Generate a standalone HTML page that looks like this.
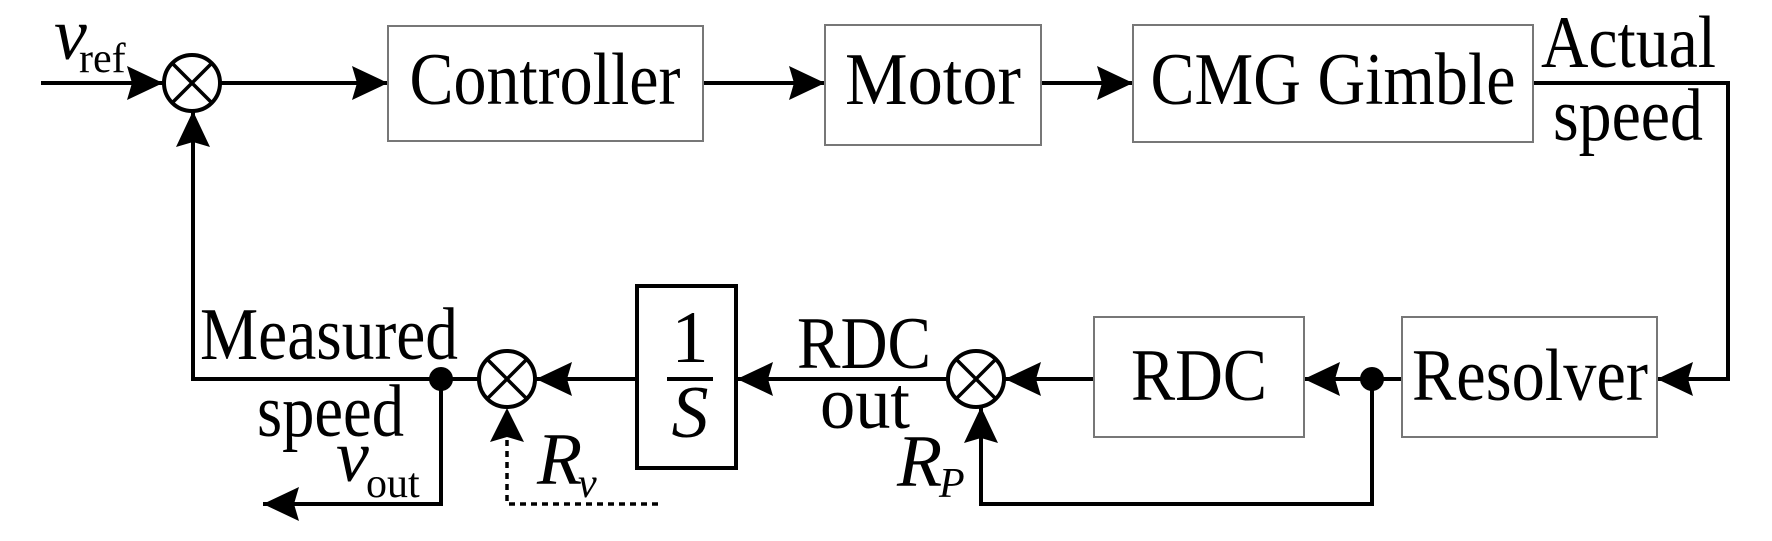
<!DOCTYPE html>
<html><head><meta charset="utf-8"><style>
html,body{margin:0;padding:0;background:#fff;}
svg{display:block;}
text{font-family:"Liberation Serif",serif;fill:#000;}
</style></head><body>
<svg width="1772" height="541" viewBox="0 0 1772 541" xmlns="http://www.w3.org/2000/svg">
<defs>
<marker id="ah" viewBox="0 0 36 34" refX="36" refY="17" markerWidth="36" markerHeight="34" markerUnits="userSpaceOnUse" orient="auto">
<path d="M0,0 L36,17 L0,34 L5,17 Z" fill="#000"/>
</marker>
</defs>
<g fill="none" stroke="#000" stroke-width="4">
<line x1="41" y1="83" x2="163" y2="83" marker-end="url(#ah)"/>
<line x1="221" y1="83" x2="388" y2="83" marker-end="url(#ah)"/>
<line x1="703" y1="83" x2="825" y2="83" marker-end="url(#ah)"/>
<line x1="1041" y1="83" x2="1133" y2="83" marker-end="url(#ah)"/>
<polyline points="1533,83 1728,83 1728,379 1657,379" marker-end="url(#ah)"/>
<line x1="1402" y1="379" x2="1304" y2="379" marker-end="url(#ah)"/>
<line x1="1094" y1="379" x2="1005" y2="379" marker-end="url(#ah)"/>
<polyline points="1372,379 1372,504 981,504 981,407" marker-end="url(#ah)"/>
<line x1="948" y1="379" x2="737" y2="379" marker-end="url(#ah)"/>
<line x1="637" y1="379" x2="536" y2="379" marker-end="url(#ah)"/>
<line x1="478" y1="379" x2="441" y2="379"/>
<polyline points="441,379 193,379 193,111" marker-end="url(#ah)"/>
<polyline points="441,379 441,504 263,504" marker-end="url(#ah)"/>
<polyline points="658,504 507,504 507,430" stroke-dasharray="6,5" stroke-width="3.5"/>
<circle cx="192" cy="83" r="28"/>
<circle cx="976" cy="379" r="28"/>
<circle cx="507" cy="379" r="28"/>
</g>
<g stroke="#000" stroke-width="3.5">
<line x1="172" y1="63" x2="212" y2="103"/><line x1="212" y1="63" x2="172" y2="103"/>
<line x1="956" y1="359" x2="996" y2="399"/><line x1="996" y1="359" x2="956" y2="399"/>
<line x1="487" y1="359" x2="527" y2="399"/><line x1="527" y1="359" x2="487" y2="399"/>
</g>
<path d="M507,408 L524,442 L507,437 L490,442 Z" fill="#000"/>
<circle cx="441" cy="379" r="12" fill="#000"/>
<circle cx="1372" cy="379" r="12" fill="#000"/>
<g fill="none" stroke="#777" stroke-width="2">
<rect x="388" y="26" width="315" height="115"/>
<rect x="825" y="25" width="216" height="120"/>
<rect x="1133" y="25" width="400" height="117"/>
<rect x="1094" y="317" width="210" height="120"/>
<rect x="1402" y="317" width="255" height="120"/>
</g>
<rect x="637" y="286" width="99" height="182" fill="none" stroke="#000" stroke-width="4"/>
<line x1="667" y1="379" x2="713" y2="379" stroke="#000" stroke-width="4"/>
<g font-size="74">
<text x="545" y="104" text-anchor="middle" textLength="271" lengthAdjust="spacingAndGlyphs">Controller</text>
<text x="933" y="104" text-anchor="middle" textLength="176" lengthAdjust="spacingAndGlyphs">Motor</text>
<text x="1333" y="104" text-anchor="middle" textLength="365" lengthAdjust="spacingAndGlyphs">CMG Gimble</text>
<text x="1541" y="67" textLength="175" lengthAdjust="spacingAndGlyphs">Actual</text>
<text x="1553" y="140" textLength="150" lengthAdjust="spacingAndGlyphs">speed</text>
<text x="1199" y="400" text-anchor="middle" textLength="136" lengthAdjust="spacingAndGlyphs">RDC</text>
<text x="1412" y="400" textLength="236" lengthAdjust="spacingAndGlyphs">Resolver</text>
<text x="797" y="368" textLength="134" lengthAdjust="spacingAndGlyphs">RDC</text>
<text x="820" y="428" textLength="90" lengthAdjust="spacingAndGlyphs">out</text>
<text x="200" y="359" textLength="258" lengthAdjust="spacingAndGlyphs">Measured</text>
<text x="257" y="436" textLength="147" lengthAdjust="spacingAndGlyphs">speed</text>
<text x="690" y="362" text-anchor="middle">1</text>
<text x="690" y="437" text-anchor="middle" font-style="italic">S</text>
<text x="54" y="59" font-style="italic">v</text>
<text x="336" y="481" font-style="italic">v</text>
<text x="537" y="484" font-style="italic">R</text>
<text x="897" y="486" font-style="italic">R</text>
</g>
<g font-size="42">
<text x="79" y="72">ref</text>
<text x="366" y="497">out</text>
<text x="578" y="497" font-style="italic">v</text>
<text x="939" y="497" font-style="italic">P</text>
</g>
</svg>
</body></html>
